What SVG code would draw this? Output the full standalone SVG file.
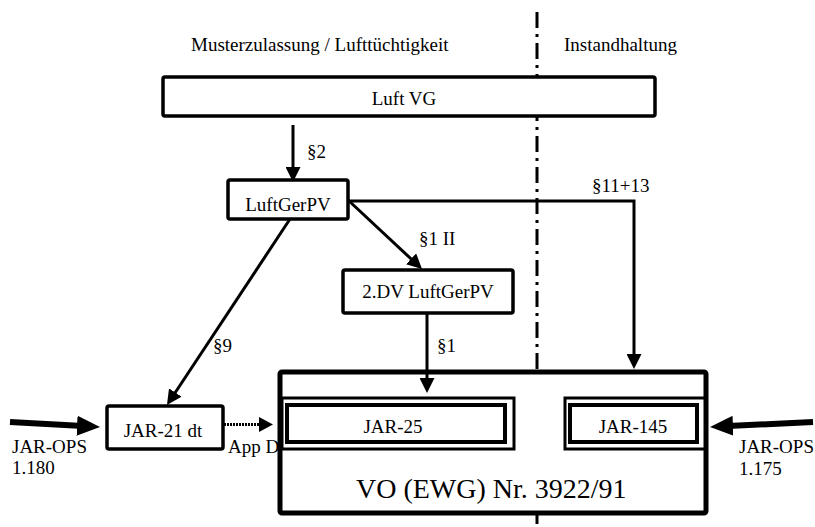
<svg xmlns="http://www.w3.org/2000/svg" width="815" height="527" viewBox="0 0 815 527" font-family="'Liberation Serif', 'Times New Roman', 'DejaVu Serif', serif">
  <style>
    text { font-family: 'Liberation Serif', 'Times New Roman', 'DejaVu Serif', serif; fill: #000; }
    .t19 { font-size: 19px; }
    .mid { text-anchor: middle; }
    .box { fill: #fff; stroke: #000; stroke-width: 3.5; stroke-linejoin: round; }
    .big { fill: #fff; stroke: #000; stroke-width: 5; stroke-linejoin: round; }
    .frame { fill: none; stroke: #000; stroke-width: 3; }
    .inner { fill: none; stroke: #000; stroke-width: 4; }
    .divider { fill: none; stroke: #000; stroke-width: 3; stroke-dasharray: 16 6 3 6; }
    .edge { fill: none; stroke: #000; stroke-width: 3; }
    .thick { fill: none; stroke: #000; stroke-width: 6; }
    .dotted { fill: none; stroke: #000; stroke-width: 3; stroke-dasharray: 2 1; }
  </style>
  <defs>
    <marker id="head" markerUnits="userSpaceOnUse" markerWidth="15" markerHeight="15" refX="9" refY="7.5" orient="auto">
      <path d="M0,0 L15,7.5 L0,15 z" fill="#000"/>
    </marker>
    <marker id="bighead" markerUnits="userSpaceOnUse" markerWidth="23" markerHeight="20" refX="15" refY="10" orient="auto">
      <path d="M0,0 L23,10 L0,20 z" fill="#000"/>
    </marker>
    <marker id="smallhead" markerUnits="userSpaceOnUse" markerWidth="14" markerHeight="15" refX="8" refY="7.5" orient="auto">
      <path d="M0,0 L14,7.5 L0,15 z" fill="#000"/>
    </marker>
  </defs>

  <rect width="815" height="527" fill="#fff"/>

  <!-- column headings and the dash-dot divider between them -->
  <g id="headings">
    <text class="t19" x="191" y="51">Musterzulassung / Lufttüchtigkeit</text>
    <text class="t19" x="564" y="51">Instandhaltung</text>
  </g>
  <line class="divider" x1="537" y1="12" x2="537" y2="527"/>

  <!-- label partly covered by the regulation frame -->
  <g id="appd-label">
    <text class="t19" x="228" y="453">App D</text>
  </g>

  <g id="luftvg">
    <rect class="box" x="163" y="77" width="492" height="39" rx="2"/>
    <text class="t19 mid" x="404" y="105">Luft VG</text>
  </g>

  <g id="luftgerpv">
    <rect class="box" x="228" y="180" width="120" height="39" rx="2"/>
    <text class="t19 mid" x="288" y="211">LuftGerPV</text>
  </g>

  <g id="dv-luftgerpv">
    <rect class="box" x="343" y="270" width="170" height="43" rx="2"/>
    <text class="t19 mid" x="428" y="298">2.DV LuftGerPV</text>
  </g>

  <g id="jar21">
    <rect class="box" x="107" y="406" width="116" height="43" rx="2"/>
    <text class="t19 mid" x="163" y="437">JAR-21 dt</text>
  </g>

  <g id="vo-3922">
    <rect class="big" x="280" y="372" width="426" height="141" rx="2"/>
    <text x="356" y="498" style="font-size:28px">VO (EWG) Nr. 3922/91</text>
  </g>

  <g id="jar25">
    <rect class="frame" x="282" y="398" width="232" height="51"/>
    <rect class="inner" x="287" y="405" width="218" height="37"/>
    <text class="t19 mid" x="393" y="433">JAR-25</text>
  </g>

  <g id="jar145">
    <rect class="frame" x="565" y="398" width="141" height="51"/>
    <rect class="inner" x="570" y="405" width="127" height="37"/>
    <text class="t19 mid" x="633" y="433">JAR-145</text>
  </g>

  <g id="connectors">
    <line class="edge" x1="293" y1="125" x2="293" y2="176" marker-end="url(#head)"/>
    <text class="t19" x="307" y="158">§2</text>

    <line class="edge" x1="348" y1="200" x2="417.6" y2="265" marker-end="url(#head)"/>
    <text class="t19" x="419" y="245">§1 II</text>

    <line class="edge" x1="290" y1="219" x2="170.3" y2="400" marker-end="url(#head)"/>
    <text class="t19" x="213" y="352">§9</text>

    <path class="edge" d="M348,201 H634 V363" marker-end="url(#head)"/>
    <text class="t19" x="592" y="192">§11+13</text>

    <line class="edge" x1="427" y1="313" x2="427" y2="387" marker-end="url(#head)"/>
    <text class="t19" x="437" y="352">§1</text>

    <line class="dotted" x1="224" y1="424.5" x2="267" y2="424.5" marker-end="url(#smallhead)"/>

    <line class="thick" x1="10" y1="422" x2="92" y2="426.5" marker-end="url(#bighead)"/>
    <text class="t19" x="12" y="453">JAR-OPS</text>
    <text class="t19" x="12" y="474">1.180</text>

    <line class="thick" x1="813" y1="422" x2="718" y2="426.5" marker-end="url(#bighead)"/>
    <text class="t19" x="739" y="453">JAR-OPS</text>
    <text class="t19" x="739" y="475">1.175</text>
  </g>
</svg>
